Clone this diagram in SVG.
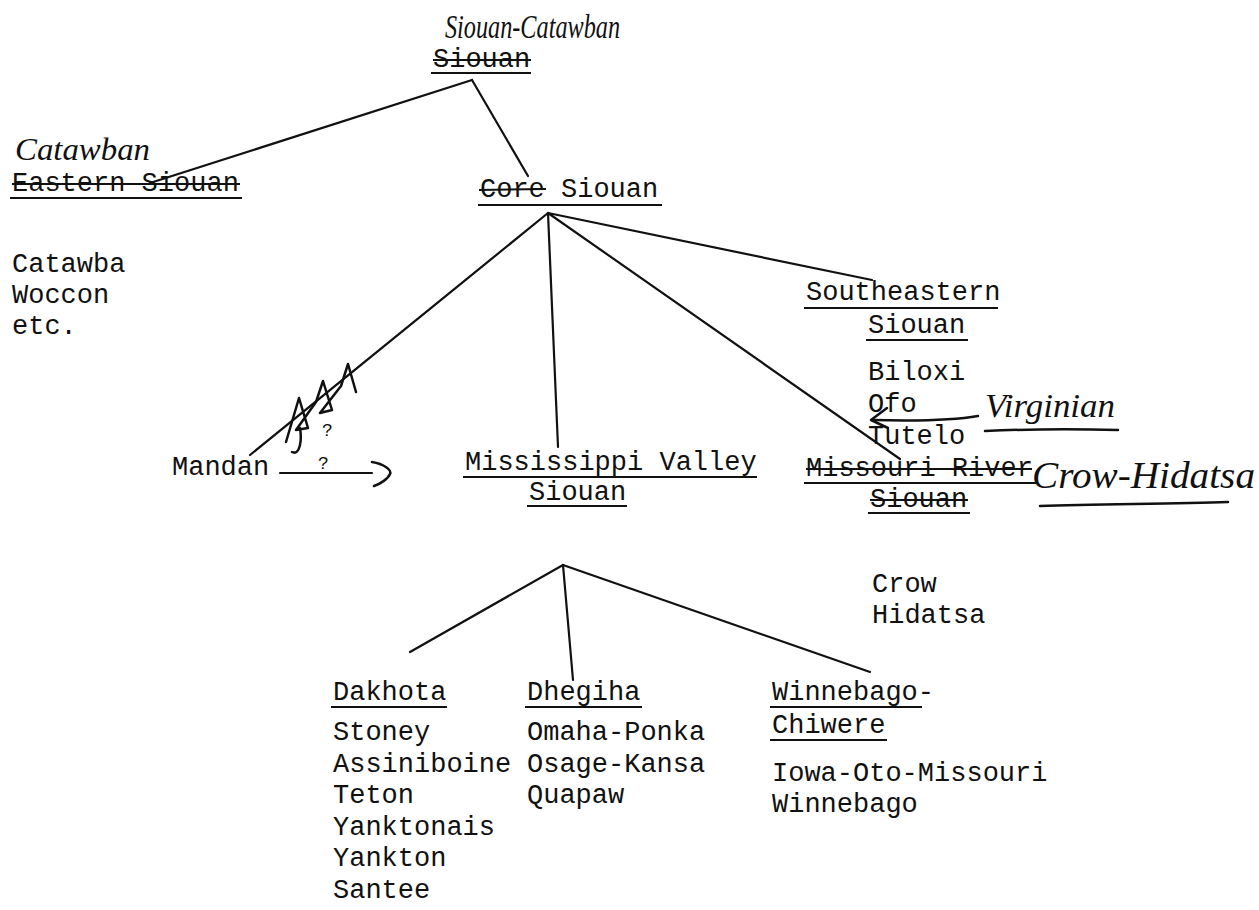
<svg xmlns="http://www.w3.org/2000/svg" width="1259" height="910" viewBox="0 0 1259 910">
<style>
.t{font-family:"Liberation Mono","DejaVu Sans Mono",monospace;font-size:27px;fill:#111}
.h{font-family:"Liberation Serif","DejaVu Serif",serif;font-style:italic;fill:#111}
.q{font-family:"Liberation Mono",monospace;font-size:18px;fill:#111}
.u{stroke:#111;stroke-width:2;fill:none}
.s{stroke:#111;stroke-width:2;fill:none}
.c{stroke:#111;stroke-width:2.2;fill:none;stroke-linecap:round}
.p{stroke:#111;stroke-width:2.5;fill:none;stroke-linecap:round;stroke-linejoin:round}
</style>
<rect width="1259" height="910" fill="#fff"/>
<g id="connectors">
<line class="c" x1="472" y1="80" x2="150" y2="183"/>
<line class="c" x1="472" y1="80" x2="528" y2="176"/>
<line class="c" x1="548" y1="213" x2="872" y2="280"/>
<line class="c" x1="548" y1="213" x2="900" y2="459"/>
<line class="c" x1="548" y1="213" x2="558" y2="447"/>
<line class="c" x1="548" y1="213" x2="250" y2="455"/>
<line class="c" x1="563" y1="565" x2="410" y2="652"/>
<line class="c" x1="563" y1="565" x2="573" y2="680"/>
<line class="c" x1="563" y1="565" x2="870" y2="672"/>
<path class="p" d="M286,442 L299,398 L308,428 L296,430 L316,402 L323,381 L332,410 L320,413 L341,386 L348,364 L356,392"/>
<path class="p" d="M300,428 C302,440 300,456 292,452"/>
<text class="q" x="322" y="436">?</text>
<line class="c" x1="280" y1="473" x2="372" y2="473"/>
<path class="p" d="M372,462 C384,464 392,470 390,474 C388,479 380,484 374,486"/>
<text class="q" x="318" y="469">?</text>
</g>
<g id="n-root">
<text class="h" x="445" y="38" font-size="33" textLength="175" lengthAdjust="spacingAndGlyphs">Siouan-Catawban</text>
<text class="t" x="433" y="67">Siouan</text>
<line class="s" x1="433" y1="60" x2="531" y2="60"/>
<line class="u" x1="431" y1="73" x2="531" y2="73"/>
</g>
<g id="n-eastern">
<text class="h" x="15" y="160" font-size="32" textLength="135" lengthAdjust="spacingAndGlyphs">Catawban</text>
<text class="t" x="12" y="191">Eastern Siouan</text>
<line class="s" x1="12" y1="184" x2="240" y2="184"/>
<line class="u" x1="10" y1="198" x2="242" y2="198"/>
<text class="t" x="12" y="272">Catawba</text>
<text class="t" x="12" y="303">Woccon</text>
<text class="t" x="12" y="334">etc.</text>
</g>
<g id="n-core">
<text class="t" x="480" y="197">Core Siouan</text>
<line class="s" x1="479" y1="190" x2="546" y2="189"/>
<line class="u" x1="478" y1="205" x2="662" y2="205"/>
</g>
<g id="n-southeastern">
<text class="t" x="806" y="300">Southeastern</text>
<line class="u" x1="804" y1="308" x2="998" y2="308"/>
<text class="t" x="868" y="333">Siouan</text>
<line class="u" x1="866" y1="340" x2="968" y2="340"/>
<text class="t" x="868" y="380">Biloxi</text>
<text class="t" x="868" y="412">Ofo</text>
<text class="t" x="868" y="444">Tutelo</text>
<path class="p" d="M887,408 L871,420 L888,428"/>
<path class="p" d="M872,420 C910,421 950,421 978,416"/>
<text class="h" x="985" y="417" font-size="34" textLength="130" lengthAdjust="spacingAndGlyphs">Virginian</text>
<path class="p" d="M985,431 C1030,429 1080,429 1118,430"/>
</g>
<g id="n-mandan">
<text class="t" x="172" y="475">Mandan</text>
</g>
<g id="n-mississippi">
<text class="t" x="465" y="470">Mississippi Valley</text>
<line class="u" x1="463" y1="477" x2="757" y2="477"/>
<text class="t" x="529" y="500">Siouan</text>
<line class="u" x1="527" y1="506" x2="627" y2="506"/>
</g>
<g id="n-missouri">
<text class="t" x="806" y="476">Missouri River</text>
<line class="s" x1="806" y1="469" x2="1032" y2="469"/>
<line class="u" x1="804" y1="483" x2="1036" y2="483"/>
<text class="t" x="870" y="507">Siouan</text>
<line class="s" x1="870" y1="500" x2="968" y2="500"/>
<line class="u" x1="868" y1="513" x2="970" y2="513"/>
<text class="h" x="1032" y="488" font-size="38" textLength="223" lengthAdjust="spacingAndGlyphs">Crow-Hidatsa</text>
<path class="p" d="M1040,506 C1100,504 1170,504 1228,502"/>
<text class="t" x="872" y="592">Crow</text>
<text class="t" x="872" y="623">Hidatsa</text>
</g>
<g id="n-dakhota">
<text class="t" x="333" y="700">Dakhota</text>
<line class="u" x1="331" y1="707" x2="447" y2="707"/>
<text class="t" x="333" y="740">Stoney</text>
<text class="t" x="333" y="772">Assiniboine</text>
<text class="t" x="333" y="803">Teton</text>
<text class="t" x="333" y="835">Yanktonais</text>
<text class="t" x="333" y="866">Yankton</text>
<text class="t" x="333" y="898">Santee</text>
</g>
<g id="n-dhegiha">
<text class="t" x="527" y="700">Dhegiha</text>
<line class="u" x1="525" y1="707" x2="642" y2="707"/>
<text class="t" x="527" y="740">Omaha-Ponka</text>
<text class="t" x="527" y="772">Osage-Kansa</text>
<text class="t" x="527" y="803">Quapaw</text>
</g>
<g id="n-winnebago">
<text class="t" x="772" y="700">Winnebago-</text>
<line class="u" x1="770" y1="707" x2="922" y2="707"/>
<text class="t" x="772" y="733">Chiwere</text>
<line class="u" x1="770" y1="740" x2="887" y2="740"/>
<text class="t" x="772" y="781">Iowa-Oto-Missouri</text>
<text class="t" x="772" y="812">Winnebago</text>
</g>
</svg>
